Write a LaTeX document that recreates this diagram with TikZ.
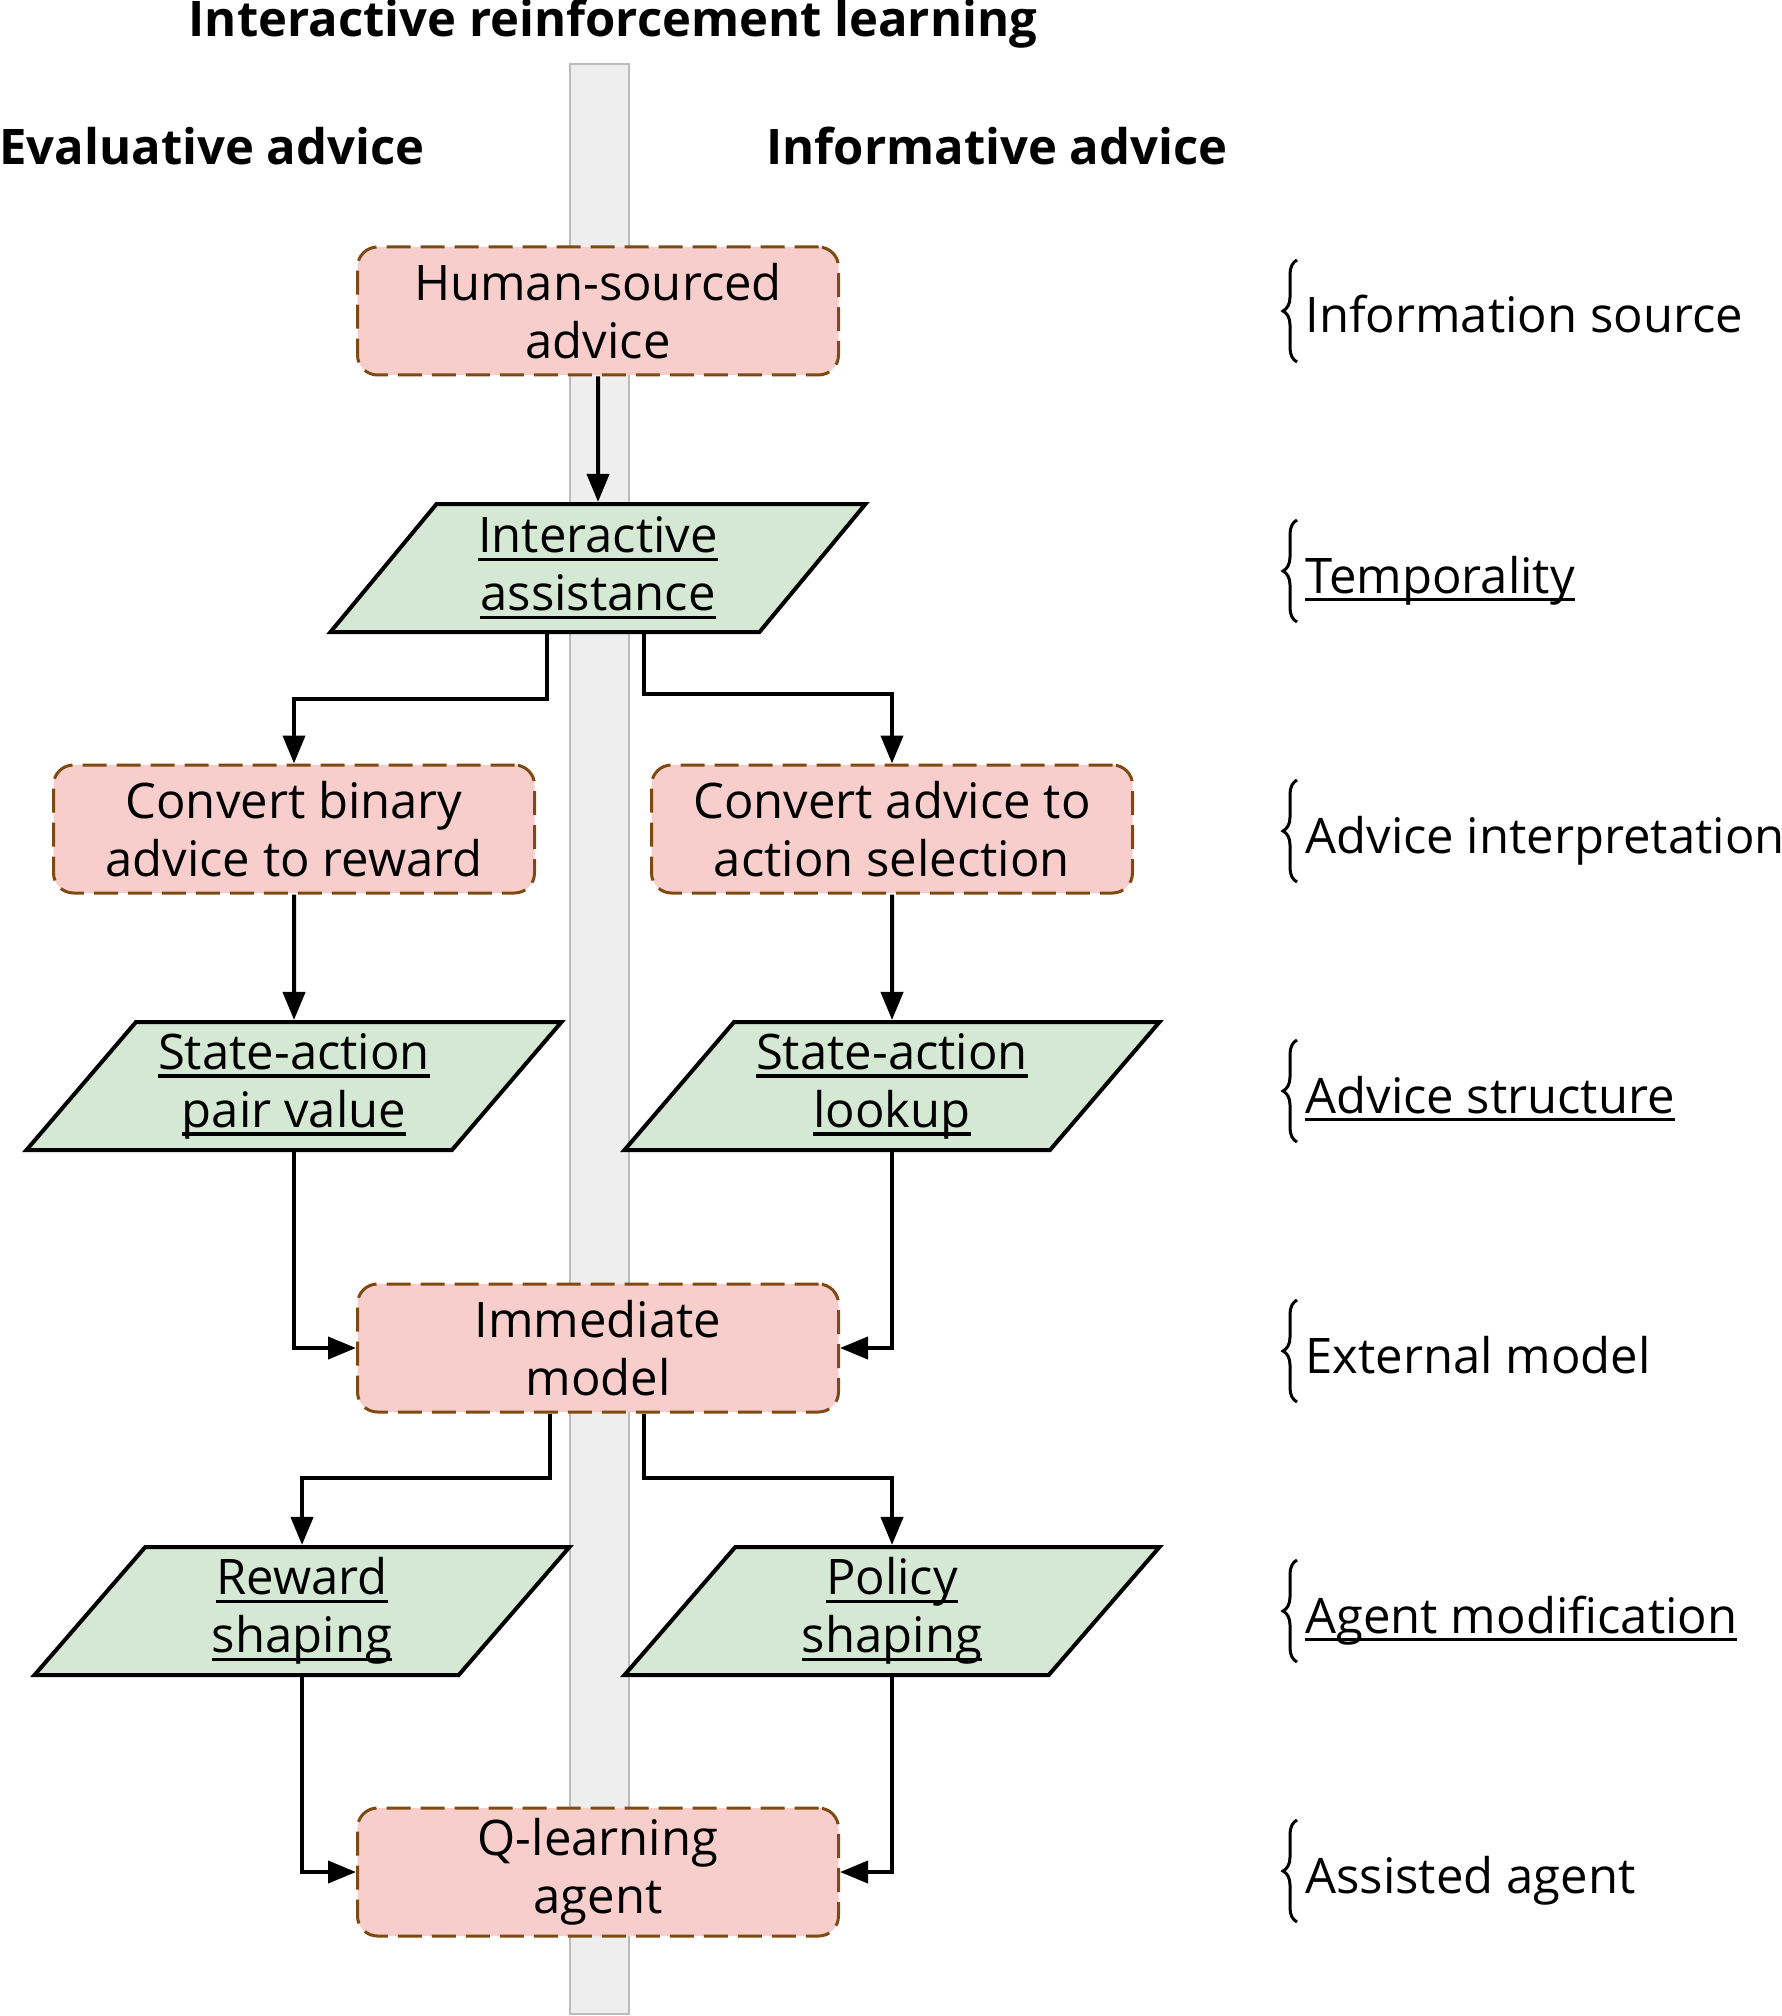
\documentclass[tikz,border=0pt]{standalone}
\usepackage{fontspec}
\setmainfont{Open Sans}
\usetikzlibrary{arrows.meta,calc,positioning,shapes.geometric,decorations.pathreplacing}
\definecolor{advicepink}{HTML}{F8CECC}
\definecolor{advicebrown}{HTML}{7F4A12}
\definecolor{methodgreen}{HTML}{D5E8D4}
\definecolor{lanegray}{HTML}{EEEEEE}
\definecolor{laneline}{HTML}{BBBBBB}
\newsavebox{\ulbox}
\newcommand{\ulin}[1]{\sbox{\ulbox}{#1}\rlap{\rule[-4.2pt]{\wd\ulbox}{1.8pt}}\usebox{\ulbox}}
\tikzset{
  process/.style={draw=advicebrown,fill=advicepink,line width=1.5pt,dash pattern=on 12pt off 5pt,rounded corners=10pt,minimum width=240.5pt,minimum height=64pt,align=center,font=\fontsize{24.5}{29}\selectfont},
  method/.style={trapezium,trapezium left angle=44,trapezium right angle=136,trapezium stretches body,draw=black,fill=methodgreen,line width=2pt,minimum width=267.5pt,minimum height=64pt,inner sep=0pt,align=center,font=\fontsize{24.5}{29}\selectfont},
  flow/.style={black,line width=2pt,-{Triangle[length=14pt,width=11pt]}},
  heading/.style={font=\fontsize{24.5}{29}\selectfont\bfseries,inner sep=0pt,anchor=base},
  aspect/.style={font=\fontsize{24.5}{29}\selectfont,inner sep=0pt,anchor=base west},
  aspectbrace/.style={decorate,decoration={brace,amplitude=7pt},line width=1.5pt},
  lane/.style={fill=lanegray,draw=laneline,line width=0.6pt}
}
\begin{document}
\begin{tikzpicture}[x=0.5pt,y=-0.5pt]
\useasboundingbox (0,0) rectangle (1781,2016);
\draw[lane] (570,64) rectangle (629,2014);
% headings
\node[heading] (title) at (613,37) {Interactive reinforcement learning};
\node[heading] (evalhead) at (212,165) {Evaluative advice};
\node[heading] (infohead) at (997,165) {Informative advice};
% flow
\node[process] (src) at (598,311) {Human-sourced\\advice};
\node[method] (interact) at (598,568) {\ulin{Interactive}\\\ulin{assistance}};
\node[process] (convR) at (294,829) {Convert binary\\advice to reward};
\node[process] (convA) at (892,829) {Convert advice to\\action selection};
\node[method] (pairval) at (294,1086) {\ulin{State-action}\\\ulin{pair value}};
\node[method] (lookup) at (892,1086) {\ulin{State-action}\\\ulin{lookup}};
\node[process] (immed) at (598,1348) {Immediate\\model};
\node[method] (rshape) at (302,1611) {\ulin{Reward}\\\ulin{shaping}};
\node[method] (pshape) at (892,1611) {\ulin{Policy}\\\ulin{shaping}};
\node[process] (qagent) at (598,1872) {Q-learning\\agent};
\draw[flow] (src) -- (interact);
\draw[flow] ($(interact.south)+(-51,0)$) -- ++(0,65) -| (convR.north);
\draw[flow] ($(interact.south)+(46,0)$) -- ++(0,60) -| (convA.north);
\draw[flow] (convR) -- (pairval);
\draw[flow] (convA) -- (lookup);
\draw[flow] (pairval.south) |- (immed.west);
\draw[flow] (lookup.south) |- (immed.east);
\draw[flow] ($(immed.south)+(-48,0)$) -- ++(0,64) -| (rshape.north);
\draw[flow] ($(immed.south)+(46,0)$) -- ++(0,64) -| (pshape.north);
\draw[flow] (rshape.south) |- (qagent.west);
\draw[flow] (pshape.south) |- (qagent.east);
% aspects on the right
\node[aspect] (asrc) at (1305,333) {Information source};
\node[aspect] (atemp) at (1305,593) {\ulin{Temporality}};
\node[aspect] (ainterp) at (1305,853) {Advice interpretation};
\node[aspect] (astruct) at (1305,1113) {\ulin{Advice structure}};
\node[aspect] (aext) at (1305,1373) {External model};
\node[aspect] (amod) at (1305,1633) {\ulin{Agent modification}};
\node[aspect] (aagent) at (1305,1893) {Assisted agent};
\draw[aspectbrace] ([shift={(-8,29)}]asrc.base west) -- ++(0,-102);
\draw[aspectbrace] ([shift={(-8,29)}]atemp.base west) -- ++(0,-102);
\draw[aspectbrace] ([shift={(-8,29)}]ainterp.base west) -- ++(0,-102);
\draw[aspectbrace] ([shift={(-8,29)}]astruct.base west) -- ++(0,-102);
\draw[aspectbrace] ([shift={(-8,29)}]aext.base west) -- ++(0,-102);
\draw[aspectbrace] ([shift={(-8,29)}]amod.base west) -- ++(0,-102);
\draw[aspectbrace] ([shift={(-8,29)}]aagent.base west) -- ++(0,-102);
\end{tikzpicture}
\end{document}
